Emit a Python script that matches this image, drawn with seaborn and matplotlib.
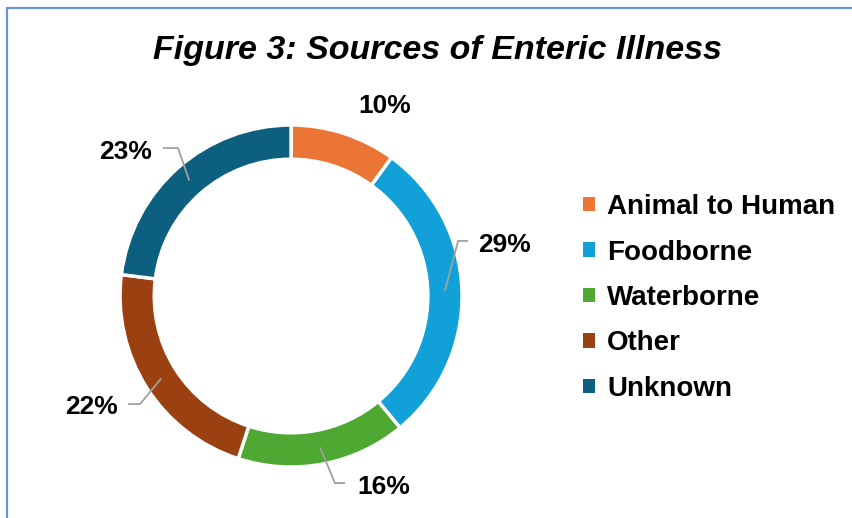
import matplotlib
matplotlib.use("Agg")
import matplotlib.pyplot as plt
import seaborn as sns
import numpy as np
from matplotlib.patches import Patch, Rectangle

# ---- data ----
categories = ["Animal to Human", "Foodborne", "Waterborne", "Other", "Unknown"]
values = [10, 29, 16, 22, 23]
colors = ["#EB7534", "#12A0D8", "#4EA832", "#9A4011", "#0D5F80"]
title = "Figure 3: Sources of Enteric Illness"

# ---- layout (label text centre, leader elbow, end of horizontal segment) in data units ----
label_pos = [(0.55, 1.11), (1.25, 0.30), (0.54, -1.117), (-1.164, -0.649), (-0.965, 0.842)]
elbow_pos = [None, (0.977, 0.322), (0.257, -1.094), (-0.883, -0.632), (-0.661, 0.865)]
hend_x = [None, 1.035, 0.316, -0.953, -0.749]

sns.set_theme(style="white")
plt.rcParams["font.family"] = ["Liberation Sans", "DejaVu Sans"]
plt.rcParams["text.color"] = "black"

fig = plt.figure(figsize=(8.53, 5.18), dpi=100)
fig.patch.set_facecolor("white")

# border
fig.patches.append(Rectangle((7 / 853, -0.1), 1.2, 1.1 - 8 / 518, transform=fig.transFigure,
                             fill=False, edgecolor="#6A95D1", linewidth=1.6, zorder=0))

ax = fig.add_axes([0.0906, 0.0159, 0.5012, 0.8253])
wedges, _ = ax.pie(values, colors=colors, startangle=90, counterclock=False, radius=1.0,
                   wedgeprops=dict(width=0.2, edgecolor="white", linewidth=2.5))
ax.set_xlim(-1.25, 1.25)
ax.set_ylim(-1.25, 1.25)
ax.set_aspect("equal")
ax.axis("off")

line_col = "#A0A0A0"
for i, (w, v) in enumerate(zip(wedges, values)):
    ang = np.deg2rad((w.theta1 + w.theta2) / 2)
    r = 0.9
    px, py = r * np.cos(ang), r * np.sin(ang)
    tx, ty = label_pos[i]
    ax.text(tx, ty, f"{v}%", ha="center", va="center", fontsize=19, fontweight="bold",
            color="black", clip_on=False)
    if elbow_pos[i] is not None:
        ex, ey = elbow_pos[i]
        ax.plot([px, ex, hend_x[i]], [py, ey, ey], color=line_col, lw=1.3,
                solid_capstyle="butt", clip_on=False, zorder=5)

handles = [Patch(facecolor=c, edgecolor="none") for c in colors]
fig.legend(handles, categories, loc="center left", bbox_to_anchor=(583 / 853, 220 / 518),
           frameon=False, prop=dict(size=20, weight="bold"), labelcolor="black",
           handlelength=0.43, handleheight=0.43, handletextpad=0.43, labelspacing=0.7,
           borderpad=0, borderaxespad=0)

fig.text(437 / 853, 1 - 51 / 518, title, ha="center", va="center", fontsize=24.5,
         fontweight="bold", fontstyle="italic", color="black")

fig.savefig("out.png", dpi=100, facecolor="white")
